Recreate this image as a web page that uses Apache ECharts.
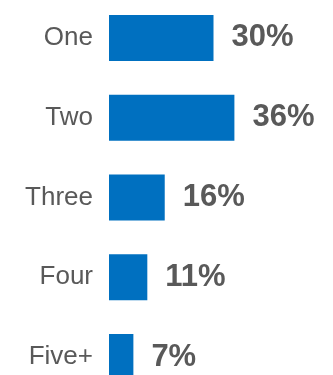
<!DOCTYPE html>
<html>
<head>
<meta charset="utf-8">
<script src="https://cdn.jsdelivr.net/npm/echarts@6/dist/echarts.min.js"></script>
<style>
html,body{margin:0;padding:0;background:#fff;}
#chart{width:333px;height:375px;}
</style>
</head>
<body>
<div id="chart"></div>
<script>
var categories = ['One', 'Two', 'Three', 'Four', 'Five+'];
var values = [30, 36, 16, 11, 7];

var chart = echarts.init(document.getElementById('chart'), null, {renderer: 'canvas'});
chart.setOption({
  animation: false,
  backgroundColor: '#ffffff',
  grid: {left: 109, right: 15, top: -2, height: 399, containLabel: false, outerBoundsMode: 'none'},
  xAxis: {type: 'value', min: 0, max: 60, show: false},
  yAxis: {
    type: 'category',
    data: categories,
    inverse: true,
    axisLine: {show: false},
    axisTick: {show: false},
    splitLine: {show: false},
    axisLabel: {
      margin: 16,
      color: '#595959',
      fontFamily: 'Liberation Sans, Arial, sans-serif',
      fontSize: 26,
      padding: [0, 0, 5, 0]
    }
  },
  series: [{
    type: 'bar',
    data: values,
    barWidth: 46,
    itemStyle: {color: '#0070C0'},
    label: {
      show: true,
      position: 'right',
      distance: 18,
      formatter: '{c}%',
      color: '#595959',
      fontWeight: 'bold',
      fontFamily: 'Liberation Sans, Arial, sans-serif',
      fontSize: 31
    }
  }]
});
</script>
</body>
</html>
